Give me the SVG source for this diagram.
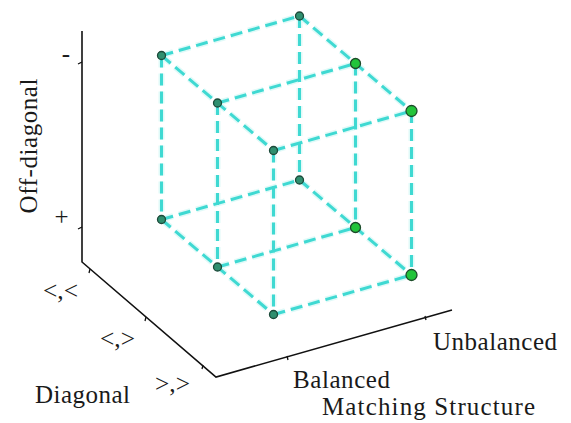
<svg xmlns="http://www.w3.org/2000/svg" width="571" height="423" viewBox="0 0 571 423">
<style>
.axis{stroke:#111;stroke-width:1.6;fill:none}
.tick{stroke:#111;stroke-width:1.3;fill:none}
.edge{stroke:#3fd9d2;stroke-width:3;stroke-dasharray:12 6;fill:none;stroke-linecap:butt}
.glow{stroke:#bff5f2;stroke-width:6;stroke-dasharray:12 6;fill:none;opacity:0.5}
.lbl{font-family:"Liberation Serif","Times New Roman",serif;font-size:25px;fill:#1a1a1a}
.n1{fill:#2f8f6f;stroke:#1d4a3a;stroke-width:1.3}
.n2{fill:#22c43a;stroke:#1d4a2a;stroke-width:1.3}
</style>
<rect width="571" height="423" fill="#ffffff"/>
<g id="axes">
<path class="axis" d="M82,31 L82,262 L216,377 L452,310"/>
<path class="tick" d="M82,62 L78,64 M82,227 L78,229 M90,269 L89,273 M146,317 L145,321 M203,365 L202,369 M287,356 L288,360 M425,316 L426,320"/>
</g>
<g id="labels">
<text class="lbl" transform="translate(37,146) rotate(-90)" text-anchor="middle" textLength="135" lengthAdjust="spacing">Off-diagonal</text>
<text class="lbl" x="66" y="62" text-anchor="middle">-</text>
<text class="lbl" x="61.5" y="225" text-anchor="middle">+</text>
<text class="lbl" x="43" y="299" textLength="35" lengthAdjust="spacingAndGlyphs">&lt;,&lt;</text>
<text class="lbl" x="100" y="347" textLength="35" lengthAdjust="spacingAndGlyphs">&lt;,&gt;</text>
<text class="lbl" x="155" y="392" textLength="35" lengthAdjust="spacingAndGlyphs">&gt;,&gt;</text>
<text class="lbl" x="35" y="403" textLength="95" lengthAdjust="spacing">Diagonal</text>
<text class="lbl" x="433" y="350" textLength="124" lengthAdjust="spacing">Unbalanced</text>
<text class="lbl" x="293" y="388" textLength="97" lengthAdjust="spacing">Balanced</text>
<text class="lbl" x="322" y="415" textLength="213" lengthAdjust="spacing">Matching Structure</text>
</g>
<g id="connectors">
<path class="glow" d="M161.5,55.5 L299.5,16 M217.5,103 L355.5,63.5 M273.5,150.5 L411.5,111 M161.5,219.5 L299.5,180 M217.5,267 L355.5,227.5 M273.5,314.5 L411.5,275 M161.5,55.5 L273.5,150.5 M299.5,16 L411.5,111 M161.5,219.5 L273.5,314.5 M299.5,180 L411.5,275 M161.5,55.5 L161.5,219.5 M217.5,103 L217.5,267 M273.5,150.5 L273.5,314.5 M299.5,16 L299.5,180 M355.5,63.5 L355.5,227.5 M411.5,111 L411.5,275"/>
<path class="edge" d="M161.5,55.5 L299.5,16 M217.5,103 L355.5,63.5 M273.5,150.5 L411.5,111 M161.5,219.5 L299.5,180 M217.5,267 L355.5,227.5 M273.5,314.5 L411.5,275"/>
<path class="edge" d="M161.5,55.5 L273.5,150.5 M299.5,16 L411.5,111 M161.5,219.5 L273.5,314.5 M299.5,180 L411.5,275"/>
<path class="edge" d="M161.5,55.5 L161.5,219.5 M217.5,103 L217.5,267 M273.5,150.5 L273.5,314.5 M299.5,16 L299.5,180 M355.5,63.5 L355.5,227.5 M411.5,111 L411.5,275"/>
</g>
<g id="node-A"><circle class="n1" cx="161.5" cy="55.5" r="4"/></g>
<g id="node-B"><circle class="n1" cx="299.5" cy="16" r="4"/></g>
<g id="node-C"><circle class="n1" cx="217.5" cy="103" r="4"/></g>
<g id="node-D"><circle class="n2" cx="355.5" cy="63.5" r="5"/></g>
<g id="node-E"><circle class="n1" cx="273.5" cy="150.5" r="4"/></g>
<g id="node-F"><circle class="n2" cx="411.5" cy="111" r="5.5"/></g>
<g id="node-G"><circle class="n1" cx="299.5" cy="180" r="4"/></g>
<g id="node-H"><circle class="n1" cx="161.5" cy="219.5" r="4"/></g>
<g id="node-I"><circle class="n1" cx="217.5" cy="267" r="4"/></g>
<g id="node-J"><circle class="n2" cx="355.5" cy="227.5" r="5"/></g>
<g id="node-K"><circle class="n1" cx="273.5" cy="314.5" r="4"/></g>
<g id="node-L"><circle class="n2" cx="411.5" cy="275" r="5.5"/></g>
</svg>
